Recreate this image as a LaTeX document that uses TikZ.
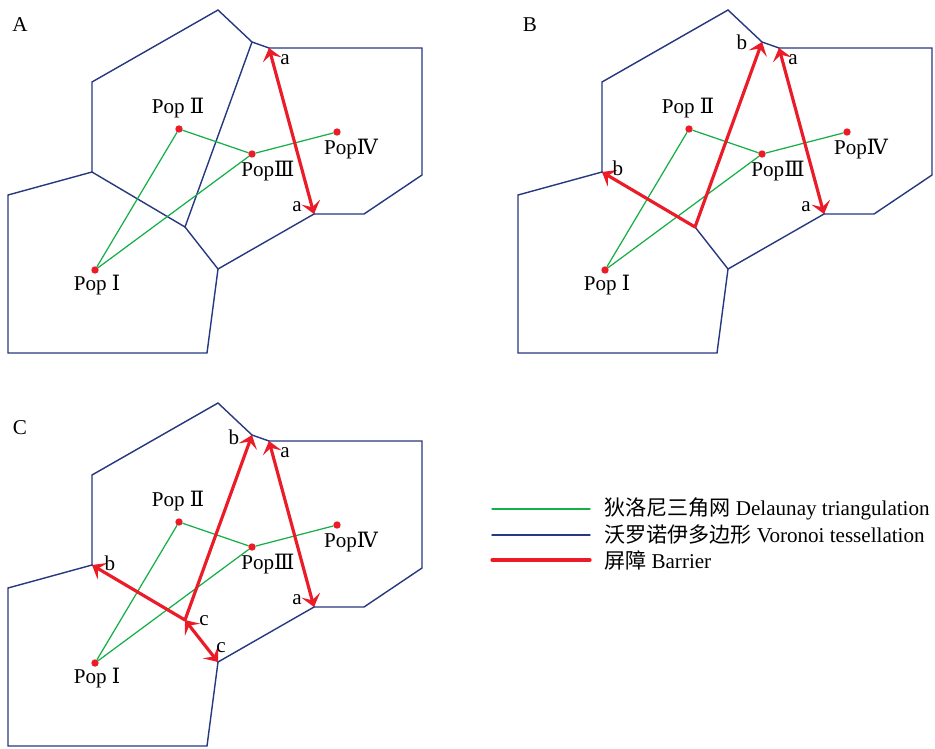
\documentclass[tikz,border=0pt]{standalone}
\usepackage{fontspec}
\setmainfont{Liberation Serif}
\newfontfamily\cjk{Noto Sans CJK SC}
\newfontfamily\romnum{DejaVu Serif}
\usetikzlibrary{arrows.meta}

\definecolor{voronoiblue}{RGB}{38,56,128}
\definecolor{delgreen}{RGB}{20,175,70}
\definecolor{barred}{RGB}{235,28,40}

\tikzset{
  voronoi/.style={voronoiblue, line width=0.8pt},
  delaunay/.style={delgreen, line width=0.7pt},
  barrier/.style={barred, line width=1.8pt, line join=round,
    {Stealth[length=7pt,width=11pt,inset=3pt]}-{Stealth[length=7pt,width=11pt,inset=3pt]}},
  pop/.style={circle, fill=barred, inner sep=0pt, minimum size=4.2pt},
  lbl/.style={font=\fontsize{12}{14}\selectfont, inner sep=1pt},
}

% one panel: voronoi cells, delaunay edges and the four populations
\newcommand\panelbase[1]{%
  \coordinate (#1t) at (218,10);
  \coordinate (#1v1) at (252,42);
  \coordinate (#1v2) at (269,48);
  \coordinate (#1r1) at (422,48);
  \coordinate (#1r2) at (422,175);
  \coordinate (#1r3) at (364,214);
  \coordinate (#1v3) at (314,214);
  \coordinate (#1v4) at (218,269);
  \coordinate (#1b1) at (207,353);
  \coordinate (#1b2) at (8,353);
  \coordinate (#1l1) at (8,195);
  \coordinate (#1v5) at (92,172);
  \coordinate (#1l2) at (92,82);
  \coordinate (#1v6) at (185,227);
  \draw[voronoi] (#1l2) -- (#1t) -- (#1v1) -- (#1v2) -- (#1r1) -- (#1r2) -- (#1r3)
    -- (#1v3) -- (#1v4) -- (#1b1) -- (#1b2) -- (#1l1) -- (#1v5) -- cycle;
  \draw[voronoi] (#1v5) -- (#1v6) -- (#1v1);
  \draw[voronoi] (#1v6) -- (#1v4);
  \draw[voronoi] (#1v2) -- (#1v3);
  \node[pop] (#1p1) at (95,270) {};
  \node[pop] (#1p2) at (179,129) {};
  \node[pop] (#1p3) at (252,154) {};
  \node[pop] (#1p4) at (337,132) {};
  \draw[delaunay] (#1p1) -- (#1p2) -- (#1p3) -- (#1p1);
  \draw[delaunay] (#1p3) -- (#1p4);
  \node[lbl] (#1n1) at (97,285) {Pop {\romnum Ⅰ}};
  \node[lbl] (#1n2) at (178,108) {Pop {\romnum Ⅱ}};
  \node[lbl] (#1n3) at (268,171) {Pop{\romnum Ⅲ}};
  \node[lbl] (#1n4) at (351,149) {Pop{\romnum Ⅳ}};
}

\begin{document}
\begin{tikzpicture}[x=0.02cm, y=-0.02cm, line cap=round]
\useasboundingbox (0,0) rectangle (935,748);

% panel A
\begin{scope}
\panelbase{A}
\draw[barrier] (Av2) -- (Av3);
\end{scope}
% panel B
\begin{scope}[shift={(510,0)}]
\panelbase{B}
\draw[barrier] (Bv2) -- (Bv3);
\draw[barrier] (Bv5) -- (Bv6) -- (Bv1);
\end{scope}
% panel C
\begin{scope}[shift={(0,393)}]
\panelbase{C}
\draw[barrier] (Cv2) -- (Cv3);
\draw[barrier] (Cv5) -- (Cv6) -- (Cv1);
\draw[barrier] (Cv6) -- (Cv4);
\end{scope}

\node[lbl] (labA) at (20,25) {A};
\node[lbl] (labB) at (530,25) {B};
\node[lbl] (labC) at (20,428) {C};

% barrier end labels
\node[lbl] (Aa1) at (285,60) {a};
\node[lbl] (Aa2) at (297,207) {a};
\node[lbl] (Bb1) at (742,42) {b};
\node[lbl] (Ba1) at (793,60) {a};
\node[lbl] (Bb2) at (618,168) {b};
\node[lbl] (Ba2) at (806,207) {a};
\node[lbl] (Cb1) at (234,437) {b};
\node[lbl] (Ca1) at (285,453) {a};
\node[lbl] (Cb2) at (110,563) {b};
\node[lbl] (Cc1) at (204,621) {c};
\node[lbl] (Cc2) at (221,648) {c};
\node[lbl] (Ca2) at (297,600) {a};

% legend
\node[lbl, anchor=west] (leg1) at (602,509) {{\cjk 狄洛尼三角网} Delaunay triangulation};
\node[lbl, anchor=west] (leg2) at (602,535) {{\cjk 沃罗诺伊多边形} Voronoi tessellation};
\node[lbl, anchor=west] (leg3) at (602,560) {{\cjk 屏障} Barrier};
\coordinate (k1) at (492,509);
\coordinate (k2) at (492,535);
\coordinate (k3) at (492,560);
\draw[delaunay] (k1) -- ++(98,0);
\draw[voronoi] (k2) -- ++(98,0);
\draw[barred, line width=1.8pt] (k3) -- ++(98,0);
\end{tikzpicture}
\end{document}
